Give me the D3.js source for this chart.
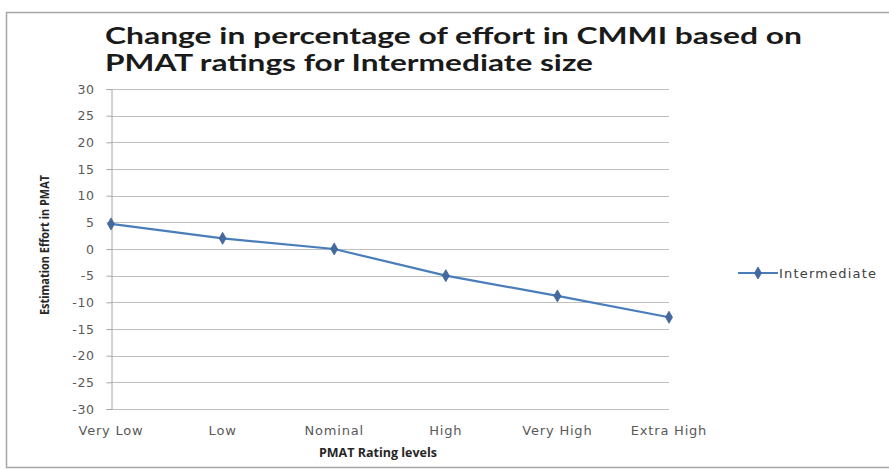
<!DOCTYPE html>
<html>
<head>
<meta charset="utf-8">
<script src="https://cdn.jsdelivr.net/npm/d3@7"></script>
<style>
  html, body { margin: 0; padding: 0; background: #fff; }
  svg { display: block; }
</style>
</head>
<body>
<div id="chart"></div>
<script>
// PMAT rating levels and the change in effort (%) for the Intermediate size
const categories = ["Very Low", "Low", "Nominal", "High", "Very High", "Extra High"];
const intermediate = [4.7, 2.0, 0, -5, -8.8, -12.8];
const yTicks = [30, 25, 20, 15, 10, 5, 0, -5, -10, -15, -20, -25, -30];
const seriesName = "Intermediate";

const W = 889, H = 470;
const plot = { left: 111, right: 669, top: 89, bottom: 409 };
const titleFont = "Lato, 'Open Sans', sans-serif";
const labelFont = "'DejaVu Sans', 'Open Sans', sans-serif";
const boldFont = "'Open Sans', 'Noto Sans', sans-serif";
const lineColor = "#4a7ebb";

const svg = d3.select("#chart").append("svg")
  .attr("width", W).attr("height", H);

// chart frame
svg.append("path")
  .attr("d", `M${W},12.5 H6.5 V467.5 H${W}`)
  .attr("fill", "none").attr("stroke", "#a6a6a6").attr("stroke-width", 1.5);

const x = d3.scalePoint().domain(categories).range([plot.left, plot.right]);
const y = d3.scaleLinear().domain([-30, 30]).range([plot.bottom, plot.top]);

// title, two lines
const titleLines = [
  { text: "Change in percentage of effort in CMMI based on", y: 44, w: 697 },
  { text: "PMAT ratings for Intermediate size", y: 71, w: 488 }
];
svg.append("g").selectAll("text").data(titleLines).join("text")
  .attr("x", 105).attr("y", d => d.y)
  .attr("textLength", d => d.w).attr("lengthAdjust", "spacingAndGlyphs")
  .attr("font-family", titleFont).attr("font-weight", "bold")
  .attr("font-size", 22).attr("fill", "#1a1a1a")
  .text(d => d.text);

// horizontal gridlines
svg.append("g").selectAll("line").data(yTicks).join("line")
  .attr("x1", plot.left).attr("x2", plot.right)
  .attr("y1", d => Math.round(y(d)) + 0.5).attr("y2", d => Math.round(y(d)) + 0.5)
  .attr("stroke", "#bfbfbf").attr("stroke-width", 1);

// y axis
const yAxis = d3.axisLeft(y).tickValues(yTicks).tickSize(5).tickPadding(8).tickFormat(d => String(d));
const gy = svg.append("g").attr("transform", `translate(${plot.left + 0.5},0)`).call(yAxis);
gy.select(".domain").attr("stroke", "#a6a6a6");
gy.selectAll(".tick line").attr("stroke", "#a6a6a6");
gy.selectAll(".tick text")
  .attr("font-family", labelFont).attr("font-size", 12.5).attr("fill", "#595959")
  .attr("letter-spacing", 0.6)
  .attr("x", -17);

// x category labels
svg.append("g").selectAll("text").data(categories).join("text")
  .attr("x", d => x(d)).attr("y", 435)
  .attr("text-anchor", "middle")
  .attr("font-family", labelFont).attr("font-size", 13).attr("fill", "#595959")
  .attr("letter-spacing", 0.8)
  .text(d => d);

// axis titles
svg.append("text")
  .attr("x", 378).attr("y", 457).attr("text-anchor", "middle")
  .attr("font-family", boldFont).attr("font-weight", "bold").attr("font-size", 12.5)
  .attr("fill", "#262626")
  .text("PMAT Rating levels");

svg.append("text")
  .attr("transform", "translate(49,245) rotate(-90)")
  .attr("text-anchor", "middle")
  .attr("textLength", 140).attr("lengthAdjust", "spacingAndGlyphs")
  .attr("font-family", boldFont)
  .attr("font-weight", "bold").attr("font-size", 12.5)
  .attr("fill", "#262626")
  .text("Estimation Effort in PMAT");

// series line
const pts = categories.map((c, i) => [x(c), y(intermediate[i])]);
svg.append("path")
  .attr("d", d3.line()(pts))
  .attr("fill", "none").attr("stroke", lineColor).attr("stroke-width", 2.2);

const diamond = d3.symbol().type(d3.symbolDiamond).size(42);
svg.append("g").selectAll("path").data(pts).join("path")
  .attr("transform", d => `translate(${d[0]},${d[1]})`)
  .attr("d", diamond)
  .attr("fill", "#44699e").attr("stroke", "#3d6699").attr("stroke-width", 0.8);

// legend
const lg = svg.append("g").attr("transform", "translate(738,273)");
lg.append("line").attr("x1", 0).attr("x2", 40).attr("y1", 0).attr("y2", 0)
  .attr("stroke", lineColor).attr("stroke-width", 2.2);
lg.append("path").attr("transform", "translate(20,0)").attr("d", diamond)
  .attr("fill", "#44699e").attr("stroke", "#3d6699").attr("stroke-width", 0.8);
lg.append("text").attr("x", 41).attr("y", 5)
  .attr("font-family", labelFont).attr("font-size", 13).attr("fill", "#404040")
  .attr("letter-spacing", 1.2)
  .text(seriesName);
</script>
</body>
</html>
